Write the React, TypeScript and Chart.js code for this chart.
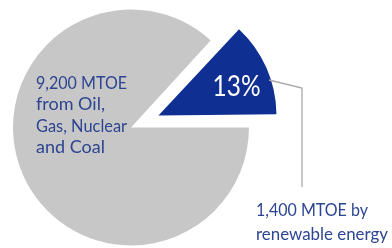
import React, { useEffect, useRef } from "react";
import { Chart, registerables } from "chart.js";

Chart.register(...registerables);

const categories = ["Renewable energy", "Oil, Gas, Nuclear and Coal"];
const valuesMTOE = [1400, 9200];
const sliceColors = ["#102f93", "#c7c7c7"];
const percentLabel = "13%";
const greyLabelLines = ["9,200 MTOE", "from Oil,", "Gas, Nuclear", "and Coal"];
const calloutLines = ["1,400 MTOE by", "renewable energy"];

const TEXT_NAVY = "#2c4592";
const FONT = "Lato, 'Open Sans', sans-serif";
const OFFSET = 120;

const radiusFix = {
  id: "radiusFix",
  afterDatasetsUpdate(chart: any) {
    const meta = chart.getDatasetMeta(0);
    meta.data.forEach((arc: any, i: number) => {
      const off = i === 0 ? OFFSET / 4 : 0;
      const circ = arc.endAngle - arc.startAngle;
      const fix = 1 - Math.sin(Math.min(Math.PI, circ));
      arc.outerRadius = arc.outerRadius - off * fix;
    });
  },
};

const labelsPlugin = {
  id: "labelsPlugin",
  afterDraw(chart: any) {
    const ctx = chart.ctx;
    const meta = chart.getDatasetMeta(0);
    const navy = meta.data[0];
    const half = (navy.startAngle + navy.endAngle) / 2;
    const d = OFFSET / 4;
    const cx = navy.x + Math.cos(half) * d;
    const cy = navy.y + Math.sin(half) * d;
    const r = navy.outerRadius;
    ctx.save();
    // grey label
    ctx.fillStyle = TEXT_NAVY;
    ctx.font = `18px ${FONT}`;
    ctx.textAlign = "left";
    ctx.textBaseline = "middle";
    greyLabelLines.forEach((t, i) => ctx.fillText(t, 36, 83 + i * 21.5, 91));
    // percent
    ctx.fillStyle = "#ffffff";
    ctx.font = `29px ${FONT}`;
    ctx.textAlign = "center";
    ctx.fillText(percentLabel, 236.5, 87, 48);
    // callout line
    const a = Math.asin((80 - cy) / (r + 6));
    const sx = cx + Math.cos(a) * (r + 6);
    const sy = cy + Math.sin(a) * (r + 6);
    ctx.strokeStyle = "#a9a9a9";
    ctx.lineWidth = 1.3;
    ctx.beginPath();
    ctx.moveTo(sx, sy);
    ctx.lineTo(302, 88);
    ctx.lineTo(302, 187);
    ctx.stroke();
    // callout text
    ctx.fillStyle = TEXT_NAVY;
    ctx.font = `18px ${FONT}`;
    ctx.textAlign = "left";
    ctx.textBaseline = "alphabetic";
    ctx.fillText(calloutLines[0], 256, 216, 112);
    ctx.fillText(calloutLines[1], 256, 240, 132);
    ctx.restore();
  },
};

export default function App() {
  const ref = useRef<HTMLCanvasElement | null>(null);
  useEffect(() => {
    if (!ref.current) return;
    const total = valuesMTOE.reduce((s, v) => s + v, 0);
    const firstShare = valuesMTOE[0] / total;
    const chart = new Chart(ref.current, {
      type: "pie",
      data: {
        labels: categories,
        datasets: [
          {
            data: valuesMTOE,
            backgroundColor: sliceColors,
            borderWidth: 0,
            offset: [OFFSET, 0],
            hoverOffset: 0,
            clip: false,
          } as any,
        ],
      },
      options: {
        animation: false,
        responsive: false,
        devicePixelRatio: 1,
        events: [],
        rotation: 90 - 360 * firstShare,
        radius: 118,
        layout: { padding: { left: 0, right: 130, top: 7, bottom: 0 } },
        plugins: { legend: { display: false }, tooltip: { enabled: false } },
      } as any,
      plugins: [radiusFix, labelsPlugin],
    });
    return () => chart.destroy();
  }, []);
  return (
    <div style={{ position: "absolute", left: 0, top: 0, width: 392, height: 248, background: "#fff" }}>
      <canvas ref={ref} width={392} height={248} style={{ display: "block" }} />
    </div>
  );
}
